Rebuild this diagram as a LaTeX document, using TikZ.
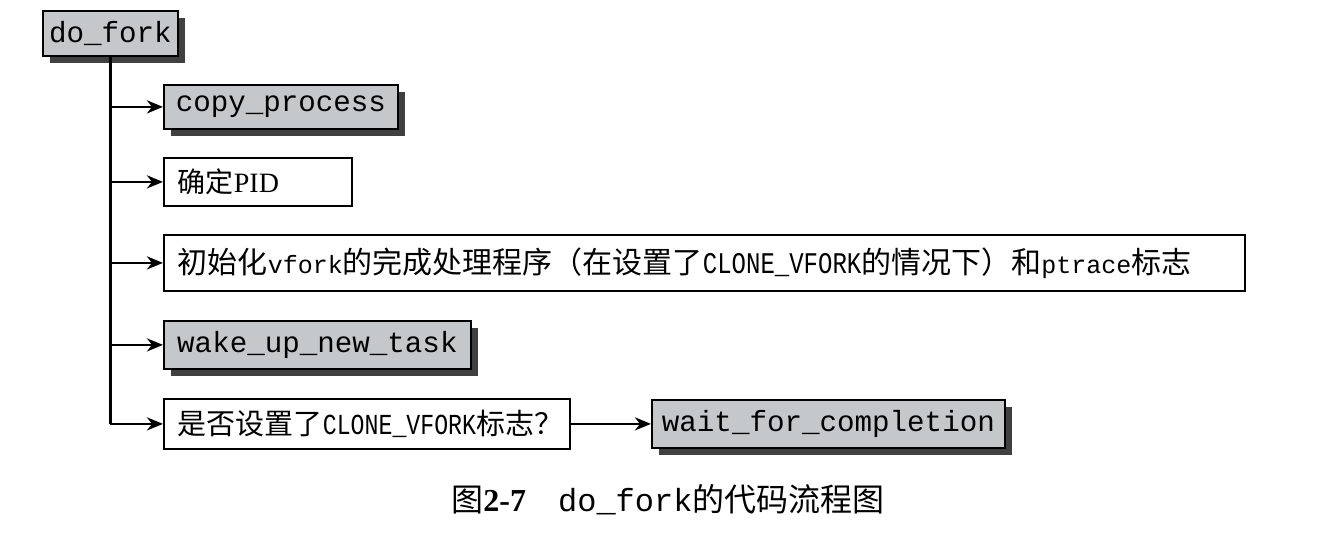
\documentclass[tikz,border=0pt]{standalone}
\usepackage{fontspec}
\setmainfont{Liberation Serif}
\setmonofont{Liberation Mono}
\newfontfamily\cjk{Noto Sans CJK SC}
\newfontfamily\narrowtt[FakeStretch=0.8]{Liberation Mono}
\usepackage{tikz}
\usetikzlibrary{arrows.meta}
\usetikzlibrary{shadows}

\definecolor{boxgray}{RGB}{197,200,202}
\definecolor{shadowgray}{RGB}{64,64,64}
\newcommand{\smalltt}[1]{{\fontsize{12.5pt}{15pt}\selectfont\ttfamily #1}}

\tikzset{
  graybox/.style={draw, line width=0.9pt, fill=boxgray, anchor=north west,
    inner xsep=3pt, inner ysep=0pt,
    font=\fontsize{14.6pt}{17pt}\selectfont\ttfamily,
    drop shadow={shadow xshift=3.5pt, shadow yshift=-3.5pt,
      fill=shadowgray, opacity=1}},
  whitebox/.style={draw, line width=0.9pt, fill=white, anchor=north west,
    inner xsep=7pt, inner ysep=0pt, align=left},
  link/.style={line width=1.4pt},
}

\begin{document}
\begin{tikzpicture}[x=0.5pt, y=-0.5pt, >={Stealth[length=8pt, width=6.5pt, inset=2.5pt]}]
        \useasboundingbox (0, 0) rectangle (1324, 546);

        \node[graybox, minimum width=67.5pt, minimum height=22.5pt] (dofork)
              at (42, 10) {do\_fork};
        \node[graybox, minimum width=117pt, minimum height=22pt] (copy)
              at (163, 84) {copy\_process};
        \node[whitebox, text width=80pt, minimum height=24pt,
              font=\fontsize{14pt}{17pt}\selectfont] (pid)
              at (163, 157) {\mbox{{\cjk 确定}PID}};
        \node[whitebox, text width=526.5pt, minimum height=28pt,
              font=\fontsize{15pt}{18pt}\selectfont] (init)
              at (163, 234) {\mbox{{\cjk 初始化}\smalltt{vfork}{\cjk 的完成处理程序（在设置了}{\narrowtt CLONE\_VFORK}{\cjk 的情况下）和}\smalltt{ptrace}{\cjk 标志}}};
        \node[graybox, minimum width=153.5pt, minimum height=24pt] (wake)
              at (163, 320) {wake\_up\_new\_task};
        \node[whitebox, text width=189pt, minimum height=25pt,
              font=\fontsize{14.5pt}{17pt}\selectfont] (check)
              at (163, 398) {\mbox{{\cjk 是否设置了}{\narrowtt CLONE\_VFORK}{\cjk 标志？}}};
        \node[graybox, minimum width=176.5pt, minimum height=24pt] (wait)
              at (651, 399) {wait\_for\_completion};

        \node[font=\fontsize{16pt}{19pt}\selectfont] (caption) at (668, 500)
              {{\cjk 图}\textbf{2-7}\hspace{1em}{\ttfamily do\_fork}{\cjk 的代码流程图}};

        \draw[link] (dofork.south) -- (dofork.south |- check.west);
        \draw[link, ->] (dofork.south |- copy.west) -- (copy.west);
        \draw[link, ->] (dofork.south |- pid.west) -- (pid.west);
        \draw[link, ->] (dofork.south |- init.west) -- (init.west);
        \draw[link, ->] (dofork.south |- wake.west) -- (wake.west);
        \draw[link, ->] (dofork.south |- check.west) -- (check.west);
        \draw[link, ->] (check.east) -- (check.east -| wait.west);
\end{tikzpicture}
\end{document}
